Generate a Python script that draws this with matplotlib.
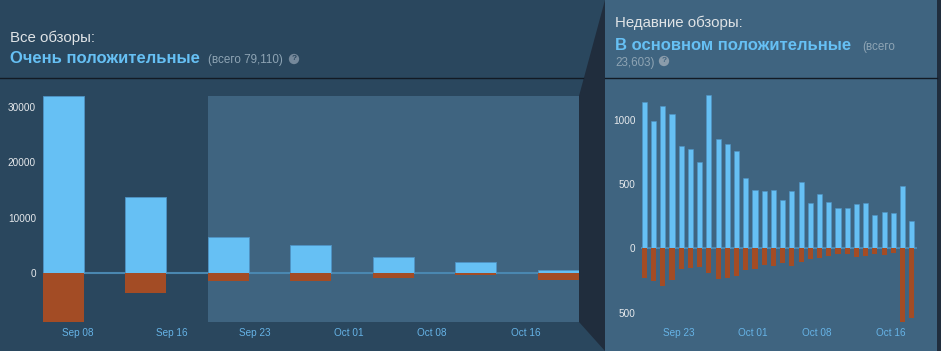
import numpy as np
import pandas as pd
import matplotlib
matplotlib.use("Agg")
import matplotlib.pyplot as plt
import matplotlib.dates as mdates
from matplotlib.patches import Polygon, Rectangle
from matplotlib.ticker import FuncFormatter

plt.rcParams['font.family'] = ['Liberation Sans', 'DejaVu Sans']

# all reviews, weekly
week_start = ['2023-09-05', '2023-09-12', '2023-09-19', '2023-09-26',
              '2023-10-03', '2023-10-10', '2023-10-17']
week_up = [32000, 13740, 6450, 5000, 2830, 2050, 540]
week_down = [-8860, -3560, -1500, -1450, -850, -420, -1200]
week_ticks = ['2023-09-08', '2023-09-16', '2023-09-23', '2023-10-01',
              '2023-10-08', '2023-10-16']

# recent reviews, daily (Sep 19 .. Oct 18)
day_start = pd.date_range('2023-09-19', '2023-10-18', freq='D')
day_up = [1137, 990, 1103, 1047, 796, 773, 669, 1190, 853, 814,
          760, 545, 457, 442, 452, 372, 444, 519, 351, 421,
          359, 315, 315, 346, 351, 258, 279, 276, 481, 209]
day_down = [-233, -253, -295, -245, -160, -155, -147, -194, -240, -233,
            -212, -168, -160, -129, -134, -116, -140, -103, -83, -72,
            -57, -41, -47, -65, -57, -47, -54, -36, -572, -540]
day_ticks = ['2023-09-23', '2023-10-01', '2023-10-08', '2023-10-16']

BG_LEFT = '#2a475e'
BG_RIGHT = '#3f6480'
DARK = '#202d3d'
POS = '#66c0f4'
NEG = '#a34c25'
ZERO = '#4a87b0'
TICK_X = '#66b3e6'
TICK_Y = '#e6e9ec'

W, H = 941, 351
fig = plt.figure(figsize=(W / 100, H / 100), dpi=100)
fig.patch.set_facecolor(BG_LEFT)


def px(x, y):
    return x / W, 1 - y / H


def add_ax(x0, y0, x1, y1):
    return fig.add_axes([x0 / W, 1 - y1 / H, (x1 - x0) / W, (y1 - y0) / H])


# background panels
bg = fig.add_axes([0, 0, 1, 1])
bg.set_xlim(0, W)
bg.set_ylim(H, 0)
bg.axis('off')
bg.add_patch(Rectangle((605, 0), W - 605, H, color=BG_RIGHT, lw=0))
bg.add_patch(Polygon([(605, 0), (579, 96), (579, 322), (605, 351)], closed=True, color=DARK, lw=0))
bg.add_patch(Rectangle((937, 0), 4, H, color=DARK, lw=0))
bg.plot([0, 583], [77.5, 77.5], color='#121a24', lw=1)
bg.plot([605, 937], [77.5, 77.5], color='#121a24', lw=1)

# headers
fig.text(*px(10, 42), 'Все обзоры:', color='#dfe3e6', fontsize=10.8, va='baseline')
fig.text(*px(10, 63), 'Очень положительные', color=POS, fontsize=12, fontweight='bold', va='baseline')
fig.text(*px(208, 63), '(всего 79,110)', color='#8ea4b4', fontsize=8.4, va='baseline')
fig.text(*px(294, 59), '?', color=BG_LEFT, fontsize=6, fontweight='bold', ha='center', va='center',
         bbox=dict(boxstyle='circle,pad=0.2', fc='#75889a', ec='none'))

fig.text(*px(615, 27), 'Недавние обзоры:', color='#dfe3e6', fontsize=10.8, va='baseline')
fig.text(*px(615, 50), 'В основном положительные', color=POS, fontsize=12, fontweight='bold', va='baseline')
fig.text(*px(862, 50), '(всего', color='#8ea4b4', fontsize=8.4, va='baseline')
fig.text(*px(615, 66), '23,603)', color='#8ea4b4', fontsize=8.4, va='baseline')
fig.text(*px(664, 61), '?', color=BG_RIGHT, fontsize=6, fontweight='bold', ha='center', va='center',
         bbox=dict(boxstyle='circle,pad=0.2', fc='#8a9cab', ec='none'))


def style(ax, ypad):
    ax.set_facecolor('none')
    for s in ax.spines.values():
        s.set_visible(False)
    ax.tick_params(length=0, labelsize=7.2)
    ax.tick_params(axis='x', colors=TICK_X, pad=4)
    ax.tick_params(axis='y', colors=TICK_Y, pad=ypad)
    ax.yaxis.set_major_formatter(FuncFormatter(lambda v, p: f'{abs(v):.0f}'))
    ax.xaxis.set_major_formatter(mdates.DateFormatter('%b %d'))


# left chart
ax1 = add_ax(43, 96, 579, 322)
wx = mdates.date2num(pd.to_datetime(week_start))
x_left = mdates.date2num(pd.Timestamp('2023-09-08')) - 35 / 11.786
x_right = mdates.date2num(pd.Timestamp('2023-09-08')) + 501 / 11.786
ax1.axvspan(wx[2], x_right, color=BG_RIGHT, lw=0, zorder=0)
ax1.axhline(0, color=ZERO, lw=1.5, zorder=1)
ax1.bar(wx, week_up, width=3.5, align='edge', color=POS, edgecolor='#4f93c4', lw=0.6, zorder=2)
ax1.bar(wx, week_down, width=3.5, align='edge', color=NEG, lw=0, zorder=2)
ax1.set_xlim(x_left, x_right)
ax1.set_ylim(-8860, 32000)
ax1.set_yticks([0, 10000, 20000, 30000])
ax1.set_xticks(mdates.date2num(pd.to_datetime(week_ticks)))
style(ax1, 5)

# right chart
ax2 = add_ax(641, 95, 917, 322)
dx = mdates.date2num(day_start)
d0 = mdates.date2num(pd.Timestamp('2023-09-23'))
ax2.axhline(0, color=ZERO, lw=1.5, zorder=1)
ax2.bar(dx, day_up, width=0.55, align='edge', color=POS, edgecolor='#4f93c4', lw=0.4, zorder=2)
ax2.bar(dx, day_down, width=0.55, align='edge', color=NEG, lw=0, zorder=2)
ax2.set_xlim(d0 - (678.7 - 641) / 9.22, d0 + (917 - 678.7) / 9.22)
ax2.set_ylim(-573, 1192)
ax2.set_yticks([-500, 0, 500, 1000])
ax2.set_xticks(mdates.date2num(pd.to_datetime(day_ticks)))
style(ax2, 4)

fig.savefig('out.png', dpi=100, facecolor=fig.get_facecolor())
